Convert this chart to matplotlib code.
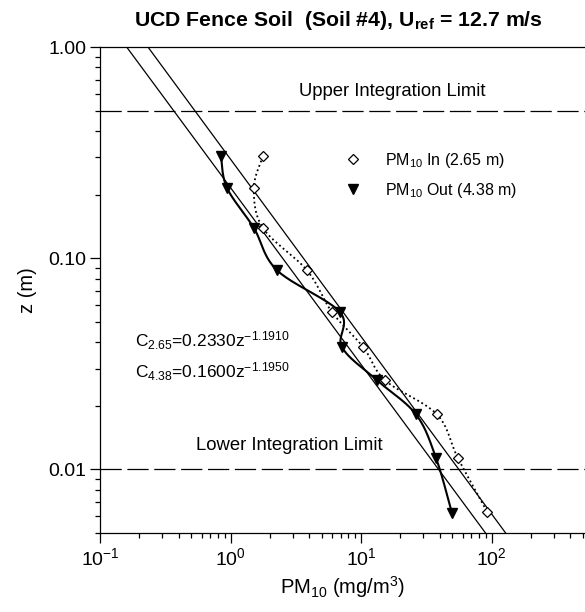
import numpy as np
import matplotlib
matplotlib.use("Agg")
import matplotlib.pyplot as plt
from matplotlib.ticker import FixedLocator, FuncFormatter, LogLocator, NullFormatter

plt.rcParams['font.family'] = ['Liberation Sans', 'DejaVu Sans']
plt.rcParams['mathtext.fontset'] = 'custom'
plt.rcParams['mathtext.rm'] = 'Liberation Sans'
plt.rcParams['mathtext.default'] = 'regular'

# measured profiles (PM10 concentration in mg/m3 vs height z in m)
z_in = [0.304, 0.215, 0.139, 0.0877, 0.0555, 0.0379, 0.0264, 0.0182, 0.0113, 0.0063]
pm_in = [1.77, 1.51, 1.77, 3.85, 6.0, 10.4, 15.3, 38.2, 55.3, 92.5]
z_out = [0.304, 0.215, 0.139, 0.0877, 0.0555, 0.0379, 0.0264, 0.0182, 0.0113, 0.0062]
pm_out = [0.845, 0.94, 1.51, 2.27, 6.9, 7.15, 13.3, 26.4, 37.6, 49.8]

# power-law fits C = a * z^b
fit_in = (0.2330, -1.1910)
fit_out = (0.1600, -1.1950)

upper_limit = 0.5
lower_limit = 0.01


def smooth(xv, yv, n=24):
    # Catmull-Rom style smoothed line in log-log space
    p = np.column_stack([np.log10(xv), np.log10(yv)])
    p = np.vstack([p[0], p, p[-1]])
    t = np.linspace(0, 1, n)[:, None]
    segs = []
    for i in range(1, len(p) - 2):
        p0, p1, p2, p3 = p[i - 1], p[i], p[i + 1], p[i + 2]
        c1 = p1 + (p2 - p0) / 6
        c2 = p2 - (p3 - p1) / 6
        segs.append((1 - t) ** 3 * p1 + 3 * (1 - t) ** 2 * t * c1
                    + 3 * (1 - t) * t ** 2 * c2 + t ** 3 * p2)
    s = np.vstack(segs)
    return 10 ** s[:, 0], 10 ** s[:, 1]


fig = plt.figure(figsize=(5.85, 6.12), dpi=100)
ax = fig.add_axes([100 / 585, 79 / 612, 485 / 585, 486 / 612])
ax.set_xscale('log')
ax.set_yscale('log')

# fit lines
z_fit = np.logspace(np.log10(0.004), np.log10(1.2), 60)
for a, b in (fit_in, fit_out):
    ax.plot(a * z_fit ** b, z_fit, color='k', lw=0.9)

# integration limits
for zl in (upper_limit, lower_limit):
    ax.axhline(zl, color='k', lw=0.9, dashes=(17, 4.5))

# smoothed profile curves
xs, ys = smooth(pm_in, z_in)
ax.plot(xs, ys, color='k', lw=1.3, ls=(0, (1, 1.6)))
xs, ys = smooth(pm_out, z_out)
ax.plot(xs, ys, color='k', lw=1.5)

ax.plot(pm_in, z_in, 'D', ms=5.3, mfc='white', mec='k', mew=0.9, ls='none',
        label=r'PM$_{10}$ In (2.65 m)')
ax.plot(pm_out, z_out, 'v', ms=7.5, color='k', ls='none',
        label=r'PM$_{10}$ Out (4.38 m)')

ax.set_xlim(0.1, 520)
ax.set_ylim(0.005, 1.0)

ax.spines['right'].set_visible(False)
for s in ('left', 'bottom', 'top'):
    ax.spines[s].set_linewidth(0.9)

ax.xaxis.set_major_locator(FixedLocator([0.1, 1, 10, 100]))
ax.xaxis.set_minor_locator(LogLocator(base=10, subs=np.arange(2, 10), numticks=20))
ax.xaxis.set_minor_formatter(NullFormatter())
ax.yaxis.set_major_locator(FixedLocator([0.01, 0.1, 1.0]))
ax.yaxis.set_major_formatter(FuncFormatter(lambda v, p: '%.2f' % v))
ax.yaxis.set_minor_locator(LogLocator(base=10, subs=np.arange(2, 10), numticks=20))
ax.yaxis.set_minor_formatter(NullFormatter())
ax.tick_params(which='major', direction='out', length=7, width=0.9, labelsize=14, pad=3)
ax.tick_params(which='minor', direction='out', length=3.5, width=0.9)

ax.set_xlabel(r'PM$_{10}$ (mg/m$^3$)', fontsize=14.5, labelpad=4)
ax.set_ylabel('z (m)', fontsize=14.5, labelpad=8)

fig.text(338 / 585, 1 - 20 / 612, r'UCD Fence Soil  (Soil #4), U$_{ref}$ = 12.7 m/s',
         ha='center', va='center', fontsize=15.3, fontweight='bold')

ax.text(0.602, 0.909, 'Upper Integration Limit', transform=ax.transAxes,
        ha='center', va='center', fontsize=13.3)
ax.text(0.390, 0.181, 'Lower Integration Limit', transform=ax.transAxes,
        ha='center', va='center', fontsize=13.3)
ax.text(0.072, 0.395, r'C$_{2.65}$=0.2330z$^{-1.1910}$', transform=ax.transAxes,
        ha='left', va='center', fontsize=12.5)
ax.text(0.072, 0.331, r'C$_{4.38}$=0.1600z$^{-1.1950}$', transform=ax.transAxes,
        ha='left', va='center', fontsize=12.5)

ax.legend(loc='upper left', bbox_to_anchor=(0.493, 0.80), frameon=False,
          fontsize=11.5, handlelength=1.0, handletextpad=1.45, labelspacing=0.7,
          borderaxespad=0)

fig.savefig('out.png', dpi=100)
